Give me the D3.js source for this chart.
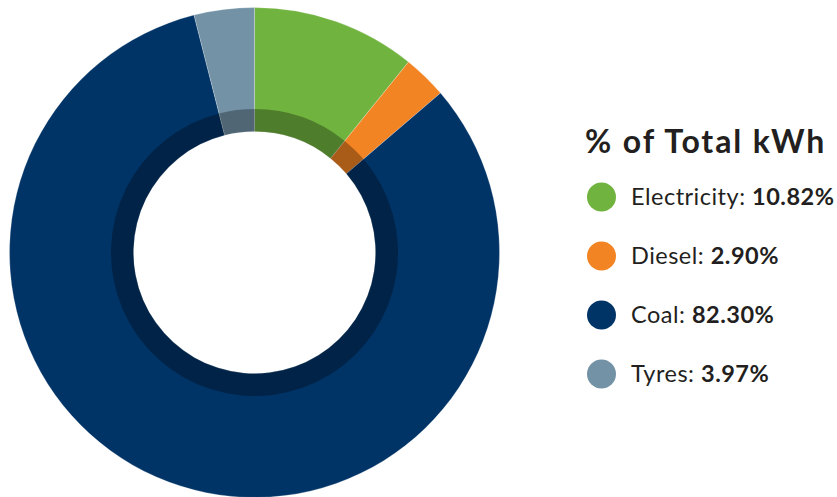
<!DOCTYPE html>
<html><head><meta charset="utf-8">
<script src="https://cdn.jsdelivr.net/npm/d3@7"></script>
<style>body{margin:0;background:#fff}svg{display:block}</style>
</head><body>
<svg id="chart" width="837" height="497"></svg>
<script>
const categories = ["Electricity", "Diesel", "Coal", "Tyres"];
const values = [10.82, 2.90, 82.30, 3.97];
const colors = ["#70b33f", "#f28423", "#003366", "#7392a6"];
const title = "% of Total kWh";

const svg = d3.select("#chart");
const cx = 254.5, cy = 252.5, rOuter = 245, rBand = 143.5, rInner = 121;

const pie = d3.pie().sort(null).value(d => d)(values);
const arcOuter = d3.arc().innerRadius(rInner).outerRadius(rOuter);
const arcBand = d3.arc().innerRadius(rInner).outerRadius(rBand);

const g = svg.append("g").attr("transform", `translate(${cx},${cy})`);
g.selectAll("path.slice").data(pie).join("path")
  .attr("class", "slice")
  .attr("d", arcOuter)
  .attr("fill", (d, i) => colors[i])
  .attr("stroke", "#ffffff").attr("stroke-width", 0.4).attr("stroke-opacity", 0.6);
g.selectAll("path.band").data(pie).join("path")
  .attr("class", "band")
  .attr("d", arcBand)
  .attr("fill", "#000").attr("fill-opacity", 0.3);

const font = "'Century Gothic', 'Lato', 'DejaVu Sans', sans-serif";
svg.append("text").attr("x", 585).attr("y", 153)
  .attr("font-family", font).attr("font-weight", "bold").attr("font-size", 32)
  .attr("letter-spacing", 1.9)
  .attr("fill", "#231f20").text(title);

const rowY = d3.scalePoint().domain(categories).range([197, 374]);
const leg = svg.selectAll("g.leg").data(categories).join("g")
  .attr("class", "leg").attr("transform", d => `translate(601.5,${rowY(d)})`);
leg.append("circle").attr("r", 14.5).attr("fill", (d, i) => colors[i]);
const t = leg.append("text").attr("x", 29.5).attr("y", 8.3)
  .attr("font-family", font).attr("font-size", 23.5).attr("letter-spacing", 0.5)
  .attr("fill", "#231f20");
t.append("tspan").text(d => d + ": ");
t.append("tspan").attr("font-weight", "bold").text((d, i) => values[i].toFixed(2) + "%");
</script>
</body></html>
